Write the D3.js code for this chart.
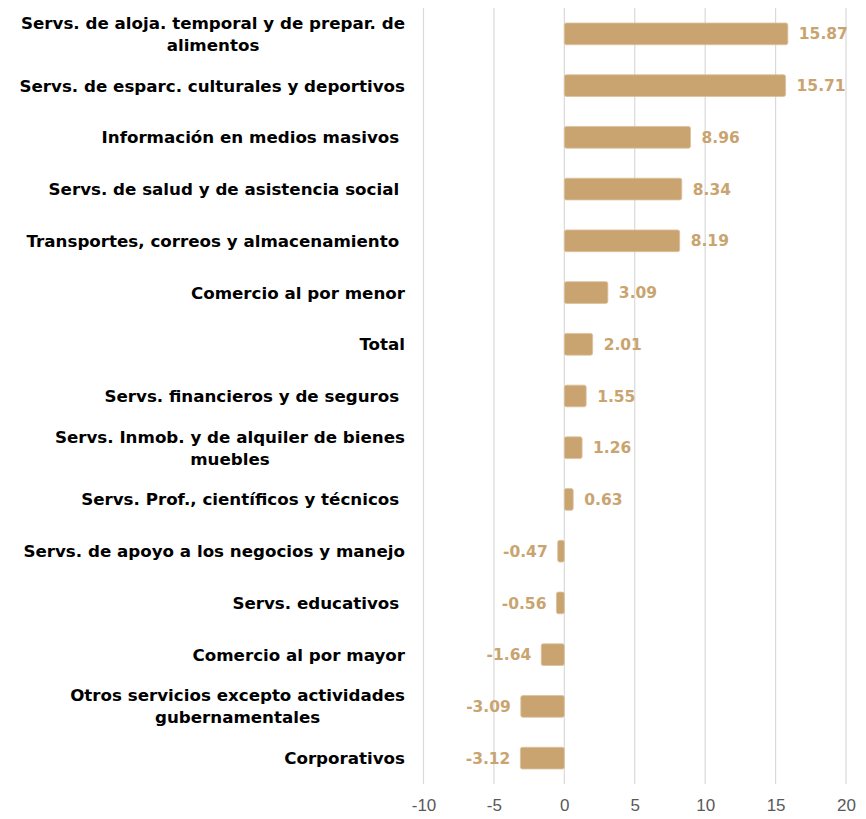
<!DOCTYPE html>
<html>
<head>
<meta charset="utf-8">
<script src="https://cdn.jsdelivr.net/npm/d3@7"></script>
<style>
  body { margin: 0; background: #fff; }
  text { white-space: pre; }
</style>
</head>
<body>
<svg id="chart"></svg>
<script>
const categories = [
  "Servs. de aloja. temporal y de prepar. de\nalimentos",
  "Servs. de esparc. culturales y deportivos",
  "Información en medios masivos ",
  "Servs. de salud y de asistencia social ",
  "Transportes, correos y almacenamiento ",
  "Comercio al por menor",
  "Total",
  "Servs. financieros y de seguros ",
  "Servs. Inmob. y de alquiler de bienes\nmuebles",
  "Servs. Prof., científicos y técnicos ",
  "Servs. de apoyo a los negocios y manejo",
  "Servs. educativos ",
  "Comercio al por mayor",
  "Otros servicios excepto actividades\ngubernamentales",
  "Corporativos",
];

const values = [15.87, 15.71, 8.96, 8.34, 8.19, 3.09, 2.01, 1.55, 1.26, 0.63, -0.47, -0.56, -1.64, -3.09, -3.12];

const xTicks = [-10, -5, 0, 5, 10, 15, 20];

const width = 866;
const height = 819;
const margin = { top: 8, right: 20, bottom: 35, left: 423.5 };
const barColor = "#c9a470";
const labelFont = "'DejaVu Sans', sans-serif";

const svg = d3.select("#chart")
  .attr("width", width)
  .attr("height", height);

const data = categories.map((c, i) => ({ name: c, value: values[i] }));

const x = d3.scaleLinear()
  .domain([-10, 20])
  .range([margin.left, width - margin.right]);

const y = d3.scaleBand()
  .domain(d3.range(data.length))
  .range([margin.top, height - margin.bottom])
  .paddingInner(0.58)
  .paddingOuter(0.29);

// gridlines
svg.append("g")
  .selectAll("line")
  .data(xTicks)
  .join("line")
  .attr("x1", (d) => x(d))
  .attr("x2", (d) => x(d))
  .attr("y1", margin.top)
  .attr("y2", height - margin.bottom)
  .attr("stroke", "#d9d9d9")
  .attr("stroke-width", 1.2);

// x axis labels
const xAxis = d3.axisBottom(x)
  .tickValues(xTicks)
  .tickFormat((d) => String(d))
  .tickSize(0)
  .tickPadding(15);
const gx = svg.append("g")
  .attr("transform", "translate(0," + (height - margin.bottom) + ")")
  .call(xAxis);
gx.select(".domain").remove();
gx.selectAll("text")
  .attr("font-family", "'Liberation Sans', sans-serif")
  .attr("font-size", "17px")
  .attr("fill", "#595959");

// bars
svg.append("g")
  .selectAll("rect")
  .data(data)
  .join("rect")
  .attr("x", (d) => x(Math.min(0, d.value)))
  .attr("y", (d, i) => y(i))
  .attr("width", (d) => Math.abs(x(d.value) - x(0)))
  .attr("height", y.bandwidth())
  .attr("rx", 2)
  .attr("fill", barColor)
  .attr("stroke", "#dcc29c")
  .attr("stroke-width", 0.8);

// value labels
svg.append("g")
  .selectAll("text")
  .data(data)
  .join("text")
  .attr("x", (d) => d.value >= 0 ? x(d.value) + 11 : x(d.value) - 10)
  .attr("y", (d, i) => y(i) + y.bandwidth() / 2)
  .attr("dy", "0.36em")
  .attr("text-anchor", (d) => d.value >= 0 ? "start" : "end")
  .attr("font-family", labelFont)
  .attr("font-weight", "bold")
  .attr("font-size", "15.5px")
  .attr("fill", barColor)
  .text((d) => d.value.toFixed(2));

// category labels
const labelRight = 405;
const lineHeight = 22;
const catG = svg.append("g");
data.forEach((d, i) => {
  const lines = d.name.split("\n");
  const t = catG.append("text")
    .attr("font-family", labelFont)
    .attr("font-weight", "bold")
    .attr("font-size", "16.7px")
    .attr("fill", "#000");
  const cy = y(i) + y.bandwidth() / 2;
  if (lines.length === 1) {
    t.attr("x", labelRight)
      .attr("y", cy)
      .attr("dy", "0.36em")
      .attr("text-anchor", "end")
      .text(lines[0]);
  } else {
    lines.forEach((l, j) => {
      t.append("tspan")
        .attr("y", cy + (j - (lines.length - 1) / 2) * lineHeight)
        .attr("dy", "0.36em")
        .text(l);
    });
    const w = d3.max(t.selectAll("tspan").nodes(), (n) => n.getComputedTextLength());
    t.attr("text-anchor", "middle");
    t.selectAll("tspan").attr("x", labelRight - w / 2);
  }
});
</script>
</body>
</html>
